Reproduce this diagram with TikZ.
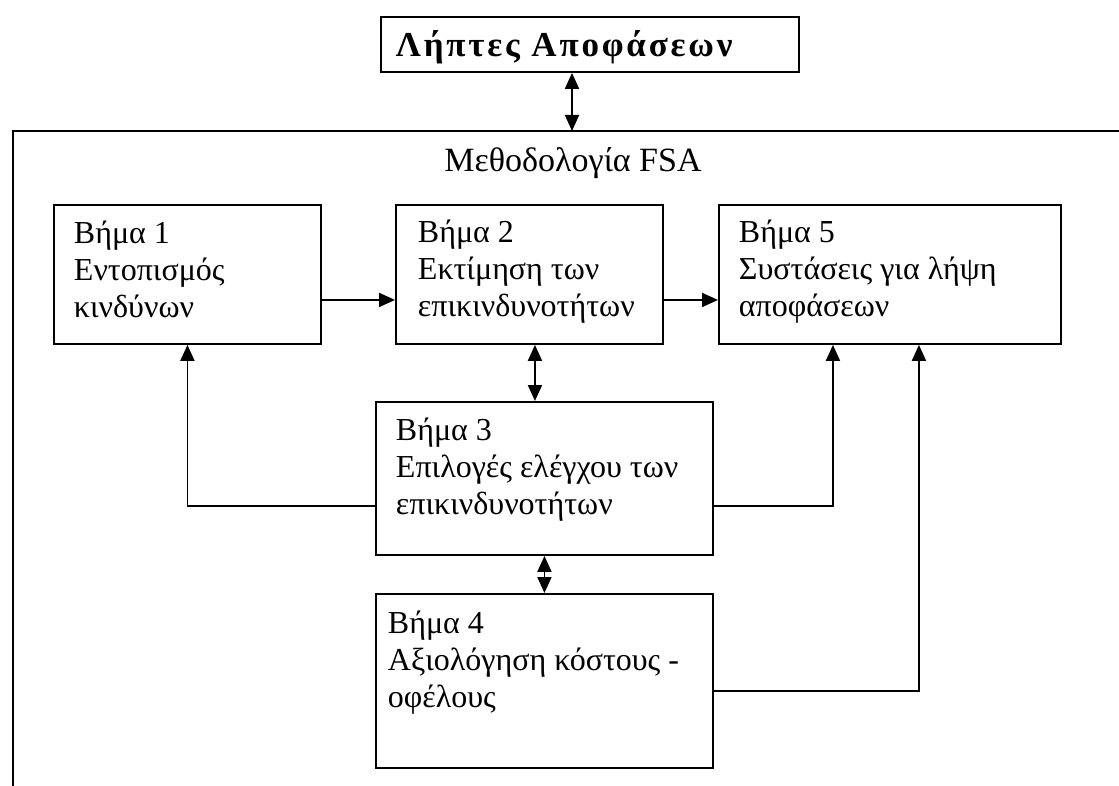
\documentclass[tikz,border=0pt]{standalone}
\usepackage{fontspec}
\setmainfont{Liberation Serif}
\newfontfamily\headfont[LetterSpace=8]{Liberation Serif}
\usetikzlibrary{arrows.meta}

% first line of a step box sits on the node's base anchor
\newcommand\stepbody[1]{\parbox[t]{12cm}{\raggedright #1}}

\begin{document}
\begin{tikzpicture}[x=1pt, y=-1pt, line width=1.9pt,
  box/.style={draw, line width=1.9pt, anchor=north west, inner sep=0pt},
  txt/.style={anchor=base west, inner sep=0pt, font=\fontsize{32}{37}\selectfont},
  one/.style={-{Triangle[length=16pt,width=14pt]}},
  both/.style={{Triangle[length=16pt,width=14pt]}-{Triangle[length=16pt,width=14pt]}}]
\useasboundingbox (0,0) rectangle (1119,786);

% decision makers
\node[box, minimum width=418pt, minimum height=55pt] (dm) at (380,16) {};
\node[anchor=base west, inner sep=0pt, font=\fontsize{35}{40}\selectfont\headfont\bfseries] (dmt) at (395,57) {Λήπτες Αποφάσεων};

% FSA frame (open at right and bottom)
\coordinate (ftop) at (572,131);
\draw (1119,131) -- (13,131) -- (13,786);
\node[anchor=base, inner sep=0pt, font=\fontsize{34}{40}\selectfont] (ttl) at (573,172) {Μεθοδολογία FSA};

% step boxes
\node[box, minimum width=267pt, minimum height=139pt] (s1) at (53,204) {};
\node[box, minimum width=267pt, minimum height=139pt] (s2) at (395,204) {};
\node[box, minimum width=342pt, minimum height=139pt] (s5) at (718,204) {};
\node[box, minimum width=337pt, minimum height=153pt] (s3) at (375,401) {};
\node[box, minimum width=337pt, minimum height=174pt] (s4) at (375,593) {};

\node[txt] (t1) at (73,244) {\stepbody{Βήμα 1\\Εντοπισμός\\κινδύνων}};
\node[txt] (t2) at (417,243) {\stepbody{Βήμα 2\\Εκτίμηση των\\επικινδυνοτήτων}};
\node[txt] (t5) at (738,243) {\stepbody{Βήμα 5\\Συστάσεις για λήψη\\αποφάσεων}};
\node[txt] (t3) at (395,440) {\stepbody{Βήμα 3\\Επιλογές ελέγχου των\\επικινδυνοτήτων}};
\node[txt] (t4) at (387,633) {\stepbody{Βήμα 4\\Αξιολόγηση κόστους -\\οφέλους}};

% connectors
\draw[both] (dm.south -| ftop) -- (ftop);
\draw[one] ([yshift=-25.5pt]s1.east) -- ([yshift=-25.5pt]s2.west);
\draw[one] ([yshift=-25.5pt]s2.east) -- ([yshift=-25.5pt]s5.west);
\draw[both] ([xshift=5.5pt]s2.south) -- ([xshift=5.5pt]s2.south |- s3.north);
\draw[both] (s3.south) -- (s4.north);
\draw[one] ([yshift=-27.5pt]s3.west) -| (s1.south);
\draw[one] ([yshift=-27.5pt]s3.east) -| ([xshift=-57pt]s5.south);
\draw[one] ([yshift=-10pt]s4.east) -| ([xshift=29pt]s5.south);
\end{tikzpicture}
\end{document}
